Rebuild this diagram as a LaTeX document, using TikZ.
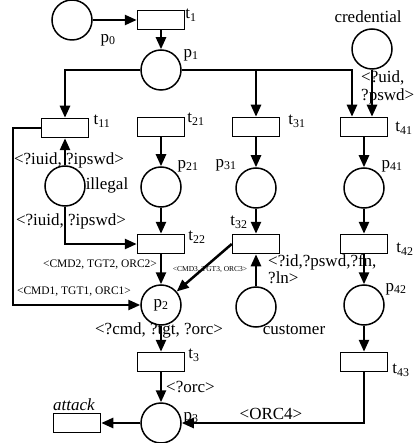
\documentclass[tikz,border=0pt]{standalone}
\usepackage{fontspec}
\setmainfont{Liberation Serif}
\usetikzlibrary{arrows.meta}
\begin{document}
\begin{tikzpicture}[x=1pt,y=-1pt,
 place/.style={circle,draw,line width=1.5pt,minimum size=40pt,inner sep=0pt},
 trans/.style={rectangle,draw,line width=1.5pt,minimum width=47pt,minimum height=19pt,inner sep=0pt},
 arc/.style={line width=2.5pt,-{Triangle[length=12pt,width=10pt]}},
 lbl/.style={inner sep=0pt,font=\fontsize{17}{19}\selectfont},
 sm/.style={inner sep=0pt,font=\fontsize{11.5}{13}\selectfont},
 tinylbl/.style={inner sep=0pt,font=\fontsize{7.5}{9}\selectfont}]
\useasboundingbox (0,0) rectangle (415,443);
% places and transitions
\node[place] (p0) at (72,20) {};
\node[trans] (t1) at (161,20) {};
\node[place] (p1) at (161,70) {};
\node[trans] (t11) at (65,128) {};
\node[trans] (t21) at (161,127) {};
\node[trans] (t31) at (256,127) {};
\node[trans] (t41) at (364,127) {};
\node[place] (cred) at (372,49) {};
\node[place] (ill) at (65,186) {};
\node[place] (p21) at (161,187) {};
\node[place] (p31) at (256,188) {};
\node[place] (p41) at (364,188) {};
\node[trans] (t22) at (161,244) {};
\node[trans] (t32) at (256,244) {};
\node[trans] (t42) at (364,244) {};
\node[place,lbl] (p2) at (161,305) {p\textsubscript{2}};
\node[place] (cust) at (256,307) {};
\node[place] (p42) at (364,305) {};
\node[trans] (t3) at (161,362) {};
\node[trans] (t43) at (364,362) {};
\node[place] (p3) at (161,423) {};
\node[trans] (att) at (77,423) {};
\coordinate (c1) at (13,128);
% connectors
\draw[arc] (p0) -- (t1);
\draw[arc] (t1) -- (p1);
\draw[arc] (p1.west) -| (t11.north);
\draw[arc] (p1.east) -| (t31.north);
\draw[arc] (p1.east) -| ([xshift=-12pt]t41.north);
\draw[arc] (cred) -- (cred |- t41.north);
\draw[arc] (t21) -- (p21);
\draw[arc] (t31) -- (p31);
\draw[arc] (t41) -- (p41);
\draw[arc] (p21) -- (t22);
\draw[arc] (p31) -- (t32);
\draw[arc] (p41) -- (t42);
\draw[arc] (t42) -- (p42);
\draw[arc] (p42) -- (t43);
\draw[arc] (ill) -- (t11);
\draw[arc] (ill.south) |- (t22.west);
\draw[arc] (t11.west) -- (c1) |- (p2.west);
\draw[arc] (t22) -- (p2);
\draw[arc] (t32.west) -- (p2);
\draw[arc] (cust) -- (t32);
\draw[arc] (p2) -- (t3);
\draw[arc] (t3) -- (p3);
\draw[arc] (t43.south) |- (p3.east);
\draw[arc] (p3) -- (att);
% labels
\node[lbl] at (108,40) {p\textsubscript{0}};
\node[lbl] at (191,15) {t\textsubscript{1}};
\node[lbl] at (191,55) {p\textsubscript{1}};
\node[lbl] at (102,121) {t\textsubscript{11}};
\node[lbl] at (196,119) {t\textsubscript{21}};
\node[lbl] at (297,121) {t\textsubscript{31}};
\node[lbl] at (404,128) {t\textsubscript{41}};
\node[lbl] at (368,17) {credential};
\node[lbl,anchor=west] at (361,78) {<?uid,};
\node[lbl,anchor=west] at (361,96) {?pswd>};
\node[lbl] at (69,160) {<?iuid, ?ipswd>};
\node[lbl] at (107,185) {illegal};
\node[lbl] at (71,221) {<?iuid, ?ipswd>};
\node[lbl] at (188,166) {p\textsubscript{21}};
\node[lbl] at (226,165) {p\textsubscript{31}};
\node[lbl] at (392,166) {p\textsubscript{41}};
\node[lbl] at (197,237) {t\textsubscript{22}};
\node[lbl] at (239,222) {t\textsubscript{32}};
\node[lbl] at (405,249) {t\textsubscript{42}};
\node[sm] at (100,265) {<CMD2, TGT2, ORC2>};
\node[tinylbl] at (210,270) {<CMD3, TGT3, ORC3>};
\node[lbl,anchor=west] at (268,262) {<?id,?pswd,?fn,};
\node[lbl,anchor=west] at (268,278) {?ln>};
\node[sm] at (74,292) {<CMD1, TGT1, ORC1>};
\node[lbl] at (396,289) {p\textsubscript{42}};
\node[lbl] at (159,330) {<?cmd, ?tgt, ?orc>};
\node[lbl] at (294,330) {customer};
\node[lbl] at (194,355) {t\textsubscript{3}};
\node[lbl] at (401,370) {t\textsubscript{43}};
\node[lbl,anchor=west] at (166,387) {<?orc>};
\node[lbl] at (74,405) {\itshape attack};
\node[lbl] at (191,418) {p\textsubscript{3}};
\node[lbl] at (271,414) {<ORC4>};
\end{tikzpicture}
\end{document}
